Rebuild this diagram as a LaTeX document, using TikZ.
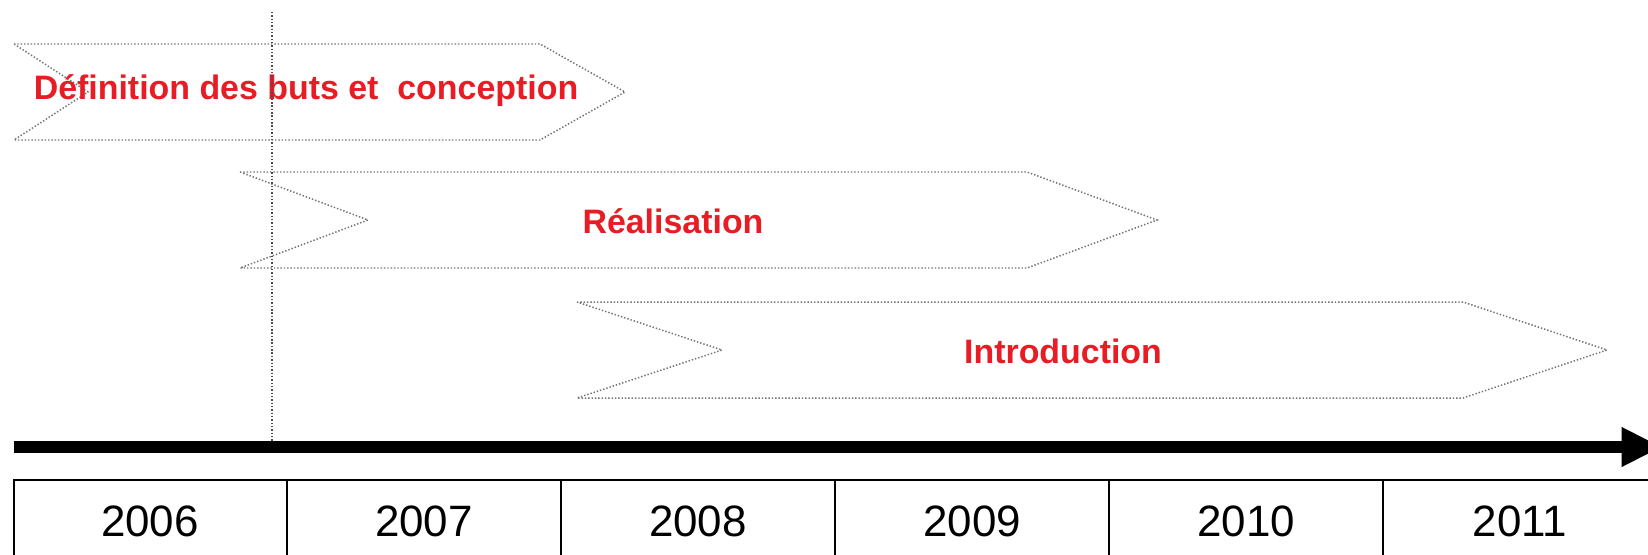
\documentclass[tikz,border=0pt]{standalone}
\usepackage{fontspec}
\setmainfont{Liberation Sans}
\usetikzlibrary{arrows.meta}
\definecolor{phasered}{RGB}{232,28,36}
\tikzset{
  phase/.style={draw=black!55,line width=0.85pt,dash pattern=on 0.8pt off 1.1pt},
  phasetext/.style={text=phasered,font=\bfseries\fontsize{19.3}{22}\selectfont},
  yeartext/.style={font=\fontsize{25}{30}\selectfont},
}
\begin{document}
\begin{tikzpicture}[x=0.02cm,y=-0.02cm]
     \useasboundingbox (0,0) rectangle (1648,554);
     % phases
     \draw[phase] (14,44) -- (540,44) -- (625,92) -- (540,140) -- (14,140) -- (88,92) -- cycle;
     \draw[phase] (240,172) -- (1027,172) -- (1157,220) -- (1027,268) -- (240,268) -- (368,220) -- cycle;
     \draw[phase] (577,302) -- (1463,302) -- (1607,350) -- (1463,398) -- (577,398) -- (722,350) -- cycle;
     \node[phasetext] (def) at (306,91) {Définition des buts et\ \ conception};
     \node[phasetext] (real) at (673,221) {Réalisation};
     \node[phasetext] (intro) at (1063,351) {Introduction};
     % today
     \coordinate (now) at (272,12);
     \coordinate (nowend) at (272,441);
     \draw[phase,draw=black!70] (now) -- (nowend);
     % time axis
     \coordinate (t0) at (14,447);
     \coordinate (t1) at (1662,447);
     \draw[line width=6.8pt,-{Triangle[length=23pt,width=21pt]}] (t0) -- (t1);
     % years
     \draw[line width=1pt] (14,480) rectangle (1720,600);
     \foreach \k in {0,...,4}
       \draw[line width=1pt] ({287+274*\k},480) -- ({287+274*\k},600);
     \foreach \yr [count=\i from 0] in {2006,2007,2008,2009,2010,2011}
       \node[yeartext] (y\yr) at ({150+274*\i},521) {\yr};
\end{tikzpicture}
\end{document}
